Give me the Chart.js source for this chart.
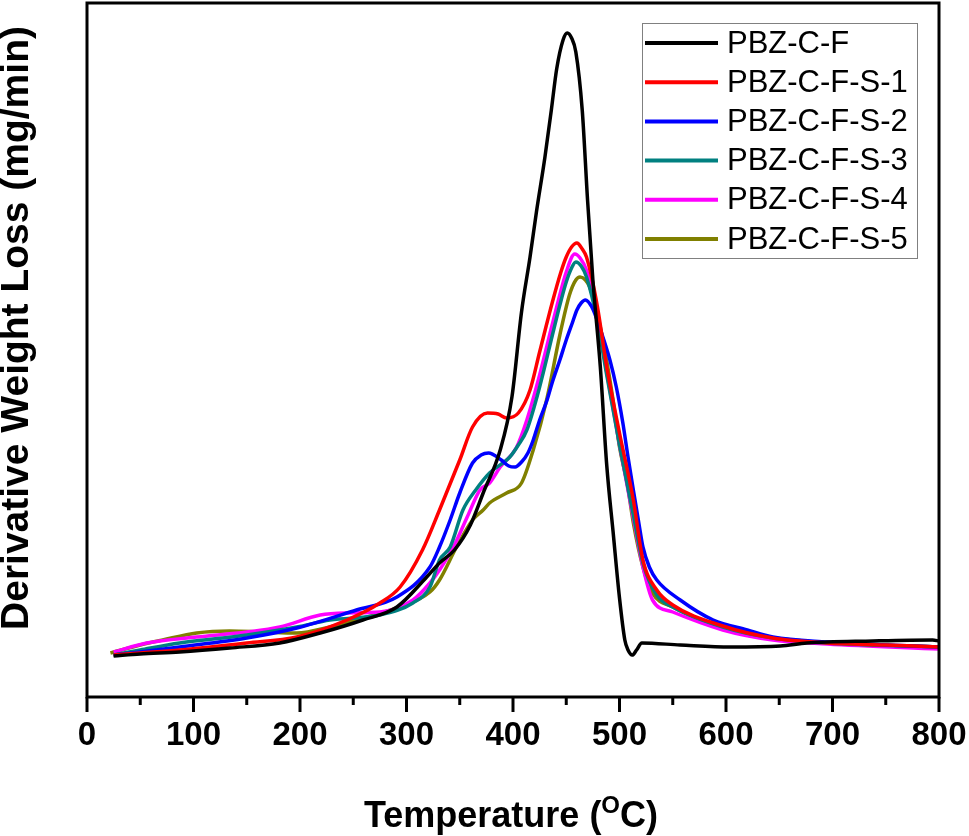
<!DOCTYPE html>
<html>
<head>
<meta charset="utf-8">
<title>DTG curves</title>
<script src="https://cdn.jsdelivr.net/npm/chart.js@4.4.1/dist/chart.umd.min.js"></script>
<style>
    html, body { margin: 0; padding: 0; background: #fff; }
    #wrap { width: 969px; height: 836px; }
</style>
</head>
<body>
<div id="wrap"><canvas id="dtgChart" width="969" height="836"></canvas></div>
<script>
// x ticks
const xTicks = [0, 100, 200, 300, 400, 500, 600, 700, 800];

// PBZ-C-F
const tempC = [25, 50, 87, 134, 181, 219, 259, 291, 319, 331, 345, 360, 372, 388, 399, 408, 416, 422, 430, 436, 441, 447, 451, 455, 459, 465, 470, 475, 482, 488, 494, 500, 505, 508, 512, 516, 521, 557, 604, 651, 676, 738, 794, 800];
const dtgC = [0.41, 0.43, 0.45, 0.49, 0.54, 0.64, 0.77, 0.90, 1.20, 1.34, 1.47, 1.72, 2.04, 2.47, 3.00, 3.85, 4.40, 4.85, 5.40, 5.87, 6.28, 6.57, 6.64, 6.59, 6.45, 5.87, 4.97, 4.17, 3.30, 2.32, 1.65, 0.99, 0.57, 0.47, 0.42, 0.47, 0.54, 0.52, 0.50, 0.51, 0.54, 0.56, 0.57, 0.56];

// PBZ-C-F-S-1
const tempS1 = [25, 50, 87, 150, 197, 244, 275, 294, 315, 331, 350, 362, 376, 386, 394, 405, 416, 425, 437, 445, 450, 455, 460, 465, 469, 479, 488, 500, 513, 522, 535, 550, 597, 644, 695, 750, 800];
const dtgS1 = [0.42, 0.44, 0.47, 0.54, 0.60, 0.77, 0.94, 1.10, 1.47, 1.87, 2.37, 2.70, 2.84, 2.83, 2.79, 2.84, 3.07, 3.45, 3.95, 4.25, 4.40, 4.50, 4.54, 4.48, 4.40, 3.92, 3.30, 2.64, 1.97, 1.37, 1.07, 0.92, 0.71, 0.59, 0.54, 0.52, 0.50];

// PBZ-C-F-S-2
const tempS2 = [25, 50, 87, 150, 197, 253, 291, 322, 331, 341, 350, 362, 370, 377, 389, 396, 402, 408, 414, 419, 425, 432, 437, 444, 450, 456, 460, 464, 468, 474, 479, 485, 491, 497, 503, 508, 513, 518, 522, 528, 535, 557, 588, 620, 644, 695, 750, 800];
const dtgS2 = [0.42, 0.45, 0.50, 0.59, 0.69, 0.87, 1.00, 1.30, 1.50, 1.77, 2.04, 2.34, 2.42, 2.44, 2.37, 2.31, 2.30, 2.35, 2.44, 2.57, 2.77, 2.97, 3.15, 3.37, 3.57, 3.75, 3.87, 3.94, 3.97, 3.90, 3.77, 3.58, 3.37, 3.10, 2.75, 2.40, 2.07, 1.75, 1.50, 1.30, 1.17, 0.97, 0.77, 0.67, 0.60, 0.55, 0.52, 0.50];

// PBZ-C-F-S-3
const tempS3 = [25, 50, 87, 150, 197, 228, 275, 306, 322, 331, 341, 353, 365, 378, 397, 405, 413, 425, 437, 444, 450, 455, 459, 464, 469, 479, 488, 500, 513, 522, 535, 550, 597, 644, 695, 800];
const dtgS3 = [0.42, 0.47, 0.54, 0.62, 0.70, 0.77, 0.82, 0.94, 1.10, 1.37, 1.50, 1.87, 2.07, 2.24, 2.40, 2.52, 2.67, 3.10, 3.62, 3.92, 4.15, 4.29, 4.35, 4.31, 4.20, 3.77, 3.22, 2.52, 1.82, 1.34, 1.02, 0.90, 0.70, 0.59, 0.54, 0.50];

// PBZ-C-F-S-4
const tempS4 = [25, 56, 103, 150, 181, 219, 244, 275, 306, 322, 331, 345, 357, 369, 378, 388, 403, 413, 425, 436, 441, 450, 458, 463, 469, 479, 488, 500, 513, 522, 531, 550, 597, 644, 695, 800];
const dtgS4 = [0.45, 0.54, 0.60, 0.65, 0.70, 0.82, 0.84, 0.85, 0.97, 1.14, 1.27, 1.52, 1.80, 2.07, 2.14, 2.30, 2.49, 2.77, 3.22, 3.69, 3.90, 4.25, 4.43, 4.39, 4.27, 3.82, 3.25, 2.52, 1.79, 1.30, 0.97, 0.85, 0.67, 0.57, 0.53, 0.48];

// PBZ-C-F-S-5
const tempS5 = [22, 50, 71, 103, 134, 165, 197, 228, 259, 291, 322, 331, 347, 362, 372, 378, 394, 408, 419, 432, 444, 453, 459, 463, 468, 472, 482, 494, 500, 507, 513, 522, 531, 550, 582, 620, 644, 695, 800];
const dtgS5 = [0.44, 0.52, 0.57, 0.64, 0.66, 0.65, 0.64, 0.70, 0.79, 0.89, 1.05, 1.17, 1.50, 1.77, 1.87, 1.94, 2.04, 2.14, 2.47, 2.99, 3.62, 4.02, 4.17, 4.20, 4.17, 4.10, 3.70, 2.97, 2.50, 2.15, 1.74, 1.30, 1.04, 0.90, 0.75, 0.62, 0.59, 0.54, 0.50];

const seriesNames = ['PBZ-C-F', 'PBZ-C-F-S-1', 'PBZ-C-F-S-2', 'PBZ-C-F-S-3', 'PBZ-C-F-S-4', 'PBZ-C-F-S-5'];
const seriesColors = ['#000000', '#ff0000', '#0000ff', '#008080', '#ff00ff', '#808000'];
const allTemps = [tempC, tempS1, tempS2, tempS3, tempS4, tempS5];
const allDtg = [dtgC, dtgS1, dtgS2, dtgS3, dtgS4, dtgS5];

function toPoints(xs, ys) {
    return xs.map(function(x, i) { return { x: x, y: ys[i] }; });
}

// frame, ticks, titles and legend drawn by hand
const decoPlugin = {
    id: 'deco',
    afterDraw: function(chart) {
        const ctx = chart.ctx;
        const a = chart.chartArea;
        const xs = chart.scales.x;
        ctx.save();

        // frame
        ctx.strokeStyle = '#000';
        ctx.lineWidth = 3;
        ctx.strokeRect(a.left, a.top, a.right - a.left, a.bottom - a.top);

        // ticks on the bottom axis, major every 100, minor every 50
        ctx.lineWidth = 3;
        for (let t = 0; t <= 800; t += 50) {
            const px = xs.getPixelForValue(t);
            const len = (t % 100 === 0) ? 15 : 8;
            ctx.beginPath();
            ctx.moveTo(px, a.bottom);
            ctx.lineTo(px, a.bottom + len);
            ctx.stroke();
        }

        // x title with superscript O
        ctx.fillStyle = '#000';
        ctx.textBaseline = 'alphabetic';
        const big = 'bold 36px "Liberation Sans", Arial, sans-serif';
        const small = 'bold 24px "Liberation Sans", Arial, sans-serif';
        const p1 = 'Temperature (', p2 = 'O', p3 = 'C)';
        ctx.font = big;
        const w1 = ctx.measureText(p1).width, w3 = ctx.measureText(p3).width;
        ctx.font = small;
        const w2 = ctx.measureText(p2).width;
        let tx = 511 - (w1 + w2 + w3) / 2;
        const ty = 827;
        ctx.font = big;
        ctx.textAlign = 'left';
        ctx.fillText(p1, tx, ty);
        tx += w1;
        ctx.font = small;
        ctx.fillText(p2, tx, ty - 14);
        tx += w2;
        ctx.font = big;
        ctx.fillText(p3, tx, ty);

        // y title
        ctx.save();
        ctx.translate(17, 328);
        ctx.rotate(-Math.PI / 2);
        ctx.font = 'bold 39px "Liberation Sans", Arial, sans-serif';
        ctx.textAlign = 'center';
        ctx.textBaseline = 'middle';
        ctx.fillText('Derivative Weight Loss (mg/min)', 0, 0);
        ctx.restore();

        // legend box
        const lx = 642, ly = 23, lw = 275, lh = 235;
        ctx.fillStyle = '#fff';
        ctx.fillRect(lx, ly, lw, lh);
        ctx.strokeStyle = '#808080';
        ctx.lineWidth = 1;
        ctx.strokeRect(lx + 0.5, ly + 0.5, lw, lh);
        ctx.font = '31px "Liberation Sans", Arial, sans-serif';
        ctx.textAlign = 'left';
        ctx.textBaseline = 'middle';
        chart.data.datasets.forEach(function(ds, i) {
            const rowY = 43 + i * 39.2;
            ctx.strokeStyle = ds.borderColor;
            ctx.lineWidth = 4;
            ctx.beginPath();
            ctx.moveTo(645, rowY);
            ctx.lineTo(718, rowY);
            ctx.stroke();
            ctx.fillStyle = '#000';
            ctx.fillText(ds.label, 727, rowY + 1);
        });

        ctx.restore();
    }
};

const ctx = document.getElementById('dtgChart').getContext('2d');
const dtgChart = new Chart(ctx, {
    type: 'line',
    data: {
        datasets: seriesNames.map(function(name, i) {
            return {
                label: name,
                data: toPoints(allTemps[i], allDtg[i]),
                borderColor: seriesColors[i],
                backgroundColor: seriesColors[i],
                borderWidth: 3.5,
                pointRadius: 0,
                fill: false,
                cubicInterpolationMode: 'monotone'
            };
        })
    },
    options: {
        responsive: false,
        animation: false,
        layout: { padding: { top: 3, right: 30, left: 0, bottom: 0 } },
        plugins: {
            legend: { display: false },
            tooltip: { enabled: false }
        },
        scales: {
            x: {
                type: 'linear',
                min: 0,
                max: 800,
                afterBuildTicks: function(scale) {
                    scale.ticks = xTicks.map(function(v) { return { value: v }; });
                },
                afterFit: function(scale) {
                    scale.height = 139;
                    scale.paddingLeft = 0;
                    scale.paddingRight = 0;
                },
                grid: { display: false, drawTicks: false },
                border: { display: false },
                ticks: {
                    color: '#000',
                    padding: 19,
                    maxRotation: 0,
                    font: { family: '"Liberation Sans", Arial, sans-serif', size: 33, weight: 'bold' }
                }
            },
            y: {
                min: 0,
                max: 6.94,
                afterFit: function(scale) { scale.width = 87; },
                grid: { display: false, drawTicks: false },
                border: { display: false },
                ticks: { display: false }
            }
        }
    },
    plugins: [decoPlugin]
});
</script>
</body>
</html>
